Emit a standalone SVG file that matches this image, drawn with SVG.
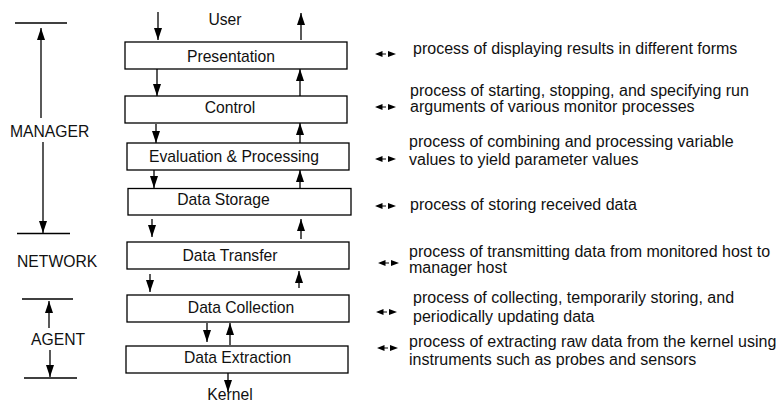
<svg xmlns="http://www.w3.org/2000/svg" width="779" height="403" viewBox="0 0 779 403">
<defs>
<marker id="ah" viewBox="0 0 12 8" refX="12" refY="4" markerWidth="12" markerHeight="8" orient="auto" markerUnits="userSpaceOnUse"><path d="M0,0 L12,4 L0,8 z" fill="#000"/></marker>
<g id="dbl"><path d="M0,0 L7.5,-3 L7.5,3 z M13,-3 L21,0 L13,3 z" fill="#000"/><line x1="7" y1="0" x2="11" y2="0" stroke="#000" stroke-width="1"/></g>
</defs>
<style>
text{font-family:"Liberation Sans",Arial,Helvetica,sans-serif;font-size:15.7px;fill:#111}
.d{font-size:16px}
.lbl{text-anchor:middle}
.box{fill:#fff;stroke:#000;stroke-width:1.3}
.c{stroke:#000;stroke-width:1.3;fill:none}
.a{stroke:#000;stroke-width:1.3;fill:none;marker-end:url(#ah)}
</style>
<rect width="779" height="403" fill="#fff"/>
<g id="connectors">
<line class="a" x1="158" y1="12" x2="158" y2="40"/>
<line class="a" x1="301" y1="40" x2="301" y2="13"/>
<line class="a" x1="157" y1="69" x2="157" y2="96"/>
<line class="a" x1="300" y1="96" x2="300" y2="69"/>
<line class="a" x1="156" y1="124" x2="156" y2="143"/>
<line class="a" x1="300" y1="143" x2="300" y2="123"/>
<line class="a" x1="154" y1="170" x2="154" y2="188"/>
<line class="a" x1="300" y1="189" x2="300" y2="170"/>
<line class="a" x1="152" y1="219" x2="152" y2="237"/>
<line class="a" x1="301" y1="239" x2="301" y2="219"/>
<line class="a" x1="150" y1="274" x2="150" y2="292"/>
<line class="a" x1="299" y1="288" x2="299" y2="271"/>
<line class="a" x1="207" y1="323" x2="207" y2="342"/>
<line class="a" x1="230" y1="345" x2="230" y2="323"/>
<line class="a" x1="228" y1="373" x2="228" y2="392"/>
<line class="c" x1="15" y1="23" x2="67" y2="23"/>
<line class="a" x1="41" y1="118" x2="41" y2="28"/>
<line class="a" x1="43" y1="142" x2="43" y2="233"/>
<line class="c" x1="17" y1="233.5" x2="70" y2="233.5"/>
<line class="c" x1="22" y1="299" x2="73" y2="299"/>
<line class="a" x1="49" y1="328" x2="49" y2="301"/>
<line class="a" x1="50" y1="350" x2="50" y2="377"/>
<line class="c" x1="24" y1="378" x2="77" y2="378"/>
<use href="#dbl" x="375" y="54"/>
<use href="#dbl" x="375" y="107"/>
<use href="#dbl" x="375" y="159"/>
<use href="#dbl" x="375" y="206"/>
<use href="#dbl" x="378" y="263"/>
<use href="#dbl" x="376" y="312"/>
<use href="#dbl" x="377" y="348"/>
</g>
<g id="left-labels">
<text x="10" y="137">MANAGER</text>
<text x="17" y="267">NETWORK</text>
<text x="31" y="345">AGENT</text>
<text class="lbl" x="225" y="25">User</text>
<text class="lbl" x="230" y="400">Kernel</text>
</g>
<g id="presentation"><rect class="box" x="125" y="42" width="222" height="27"/><text class="lbl" x="231" y="62">Presentation</text></g>
<g id="control"><rect class="box" x="125" y="96" width="222" height="27"/><text class="lbl" x="230" y="113">Control</text></g>
<g id="evaluation"><rect class="box" x="127" y="143" width="222" height="27"/><text class="lbl" x="234" y="162">Evaluation &amp; Processing</text></g>
<g id="storage"><rect class="box" x="128" y="188.5" width="223" height="26.5"/><text class="lbl" x="223.5" y="205">Data Storage</text></g>
<g id="transfer"><rect class="box" x="127" y="242" width="222" height="27"/><text class="lbl" x="230" y="261">Data Transfer</text></g>
<g id="collection"><rect class="box" x="127" y="295" width="222" height="27"/><text class="lbl" x="241" y="313">Data Collection</text></g>
<g id="extraction"><rect class="box" x="126" y="346" width="222" height="27"/><text class="lbl" x="237.5" y="363">Data Extraction</text></g>
<g id="descriptions">
<text class="d" x="413" y="54">process of displaying results in different forms</text>
<text class="d" x="410" y="96">process of starting, stopping, and specifying run</text>
<text class="d" x="410" y="112">arguments of various monitor processes</text>
<text class="d" x="409" y="147">process of combining and processing variable</text>
<text class="d" x="409" y="165">values to yield parameter values</text>
<text class="d" x="410" y="210">process of storing received data</text>
<text class="d" x="409" y="257">process of transmitting data from monitored host to</text>
<text class="d" x="409" y="273">manager host</text>
<text class="d" x="413" y="303">process of collecting, temporarily storing, and</text>
<text class="d" x="413" y="322">periodically updating data</text>
<text class="d" x="409" y="347">process of extracting raw data from the kernel using</text>
<text class="d" x="409" y="365">instruments such as probes and sensors</text>
</g>
</svg>
